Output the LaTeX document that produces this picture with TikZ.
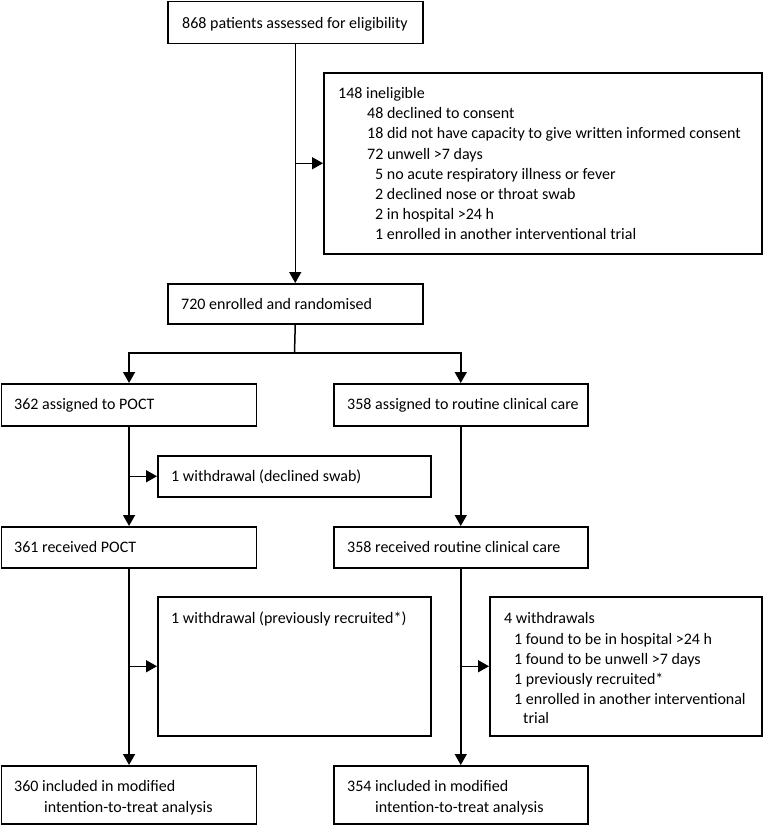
\documentclass[tikz,border=0pt]{standalone}
\usepackage{fontspec}
\setmainfont{Carlito}
\usetikzlibrary{arrows.meta}
\begin{document}
\begin{tikzpicture}[x=1pt,y=-1pt,
  box/.style={draw,line width=1.5pt,anchor=north west,inner sep=0pt,minimum width=#1},
  txt/.style={anchor=base west,inner sep=0pt,font=\fontsize{16}{20}\selectfont},
  link/.style={line width=1.5pt},
  arr/.style={line width=1.5pt,-{Triangle[length=11pt,width=12pt]}}]
\useasboundingbox (0,0) rectangle (763,825);
% boxes
\node[box=255pt,minimum height=42pt] (top) at (167,0.8) {};
\node[box=438pt,minimum height=181pt] (ine) at (323,72) {};
\node[box=255pt,minimum height=40pt] (enr) at (167,283) {};
\node[box=255pt,minimum height=42pt] (aL) at (0.8,383) {};
\node[box=254pt,minimum height=42pt] (aR) at (333,383) {};
\node[box=273pt,minimum height=41pt] (ws) at (157,455) {};
\node[box=255pt,minimum height=41pt] (rL) at (0.8,526) {};
\node[box=254pt,minimum height=41pt] (rR) at (333,526) {};
\node[box=273pt,minimum height=139pt] (wL) at (157,596) {};
\node[box=272pt,minimum height=139pt] (wR) at (489,596) {};
\node[box=255pt,minimum height=58pt] (bL) at (0.8,765) {};
\node[box=254pt,minimum height=58pt] (bR) at (333,765) {};
% texts
\node[txt] (ttop) at (182,28) {868 patients assessed for eligibility};
\node[txt] (i1) at (338,98) {148 ineligible};
\node[txt] (i2) at (367,118) {48 declined to consent};
\node[txt] (i3) at (367,138) {18 did not have capacity to give written informed consent};
\node[txt] (i4) at (367,159) {72 unwell >7 days};
\node[txt] (i5) at (375,179) {5 no acute respiratory illness or fever};
\node[txt] (i6) at (375,199) {2 declined nose or throat swab};
\node[txt] (i7) at (375,219) {2 in hospital >24 h};
\node[txt] (i8) at (375,239) {1 enrolled in another interventional trial};
\node[txt] (tenr) at (181,309) {720 enrolled and randomised};
\node[txt] (taL) at (14,409) {362 assigned to POCT};
\node[txt] (taR) at (347,409) {358 assigned to routine clinical care};
\node[txt] (tws) at (171,481) {1 withdrawal (declined swab)};
\node[txt] (trL) at (14,552) {361 received POCT};
\node[txt] (trR) at (347,552) {358 received routine clinical care};
\node[txt] (twL) at (171,623) {1 withdrawal (previously recruited*)};
\node[txt] (w1) at (504,623) {4 withdrawals};
\node[txt] (w2) at (514,644) {1 found to be in hospital >24 h};
\node[txt] (w3) at (514,664) {1 found to be unwell >7 days};
\node[txt] (w4) at (514,684) {1 previously recruited*};
\node[txt] (w5) at (514,704) {1 enrolled in another interventional};
\node[txt] (w6) at (523,723) {trial};
\node[txt] (b1) at (14,791) {360 included in modified};
\node[txt] (b2) at (44,812) {intention-to-treat analysis};
\node[txt] (b3) at (347,791) {354 included in modified};
\node[txt] (b4) at (375,812) {intention-to-treat analysis};
% connectors
\coordinate (split) at (294.5,353);
\draw[arr] (top.south) -- (enr.north);
\draw[arr] (top.south |- ine.west) -- (ine.west);
\draw[link] (enr.south) -- (split);
\draw[arr] (split) -| (aL.north);
\draw[arr] (split) -| (aR.north);
\draw[arr] (aL.south) -- (rL.north);
\draw[arr] (aL.south |- ws.west) -- (ws.west);
\draw[arr] (aR.south) -- (rR.north);
\draw[arr] (rL.south) -- (bL.north);
\draw[arr] (rL.south |- wL.west) -- (wL.west);
\draw[arr] (rR.south) -- (bR.north);
\draw[arr] (rR.south |- wR.west) -- (wR.west);
\end{tikzpicture}
\end{document}
